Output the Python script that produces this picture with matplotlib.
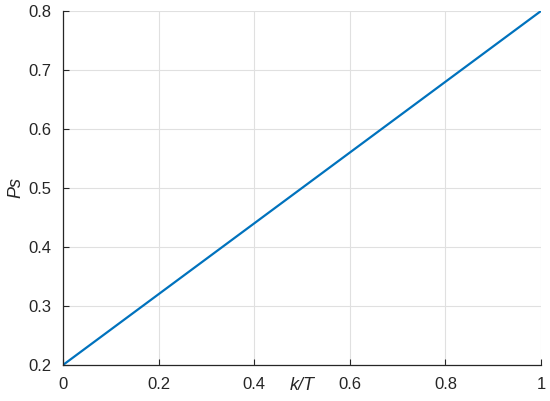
import numpy as np
import matplotlib
matplotlib.use("Agg")
import matplotlib.pyplot as plt

plt.rcParams['font.family'] = ['Liberation Sans', 'DejaVu Sans']

# data: straight line Ps vs k/T
k_over_T = [0.0, 1.0]
Ps = [0.2, 0.8]
xticks = [0, 0.2, 0.4, 0.6, 0.8, 1]
yticks = [0.2, 0.3, 0.4, 0.5, 0.6, 0.7, 0.8]

fig = plt.figure(figsize=(5.5, 4.01), dpi=100)
ax = fig.add_axes([0.1145, 0.0898, 0.8691, 0.8828])

ax.plot(k_over_T, Ps, color='#0072BD', lw=1.6)

ax.set_xlim(0, 1)
ax.set_ylim(0.2, 0.8)
ax.set_xticks(xticks)
ax.set_xticklabels(['0', '0.2', '0.4', '0.6', '0.8', '1'])
ax.set_yticks(yticks)
ax.grid(True, color='#e0e0e0', lw=0.8)
ax.set_axisbelow(True)

for s in ['top', 'right']:
    ax.spines[s].set_visible(False)
for s in ['left', 'bottom']:
    ax.spines[s].set_color('#262626')
    ax.spines[s].set_linewidth(0.9)
ax.tick_params(direction='in', length=4, colors='#262626', labelsize=12)
ax.tick_params(axis='x', pad=9)
ax.tick_params(axis='y', pad=8)

ax.set_xlabel('k/T', fontsize=13, style='italic', labelpad=-11, color='#262626')
ax.set_ylabel('Ps', fontsize=13, style='italic', labelpad=3, color='#262626')

fig.savefig('out.png', dpi=100)
